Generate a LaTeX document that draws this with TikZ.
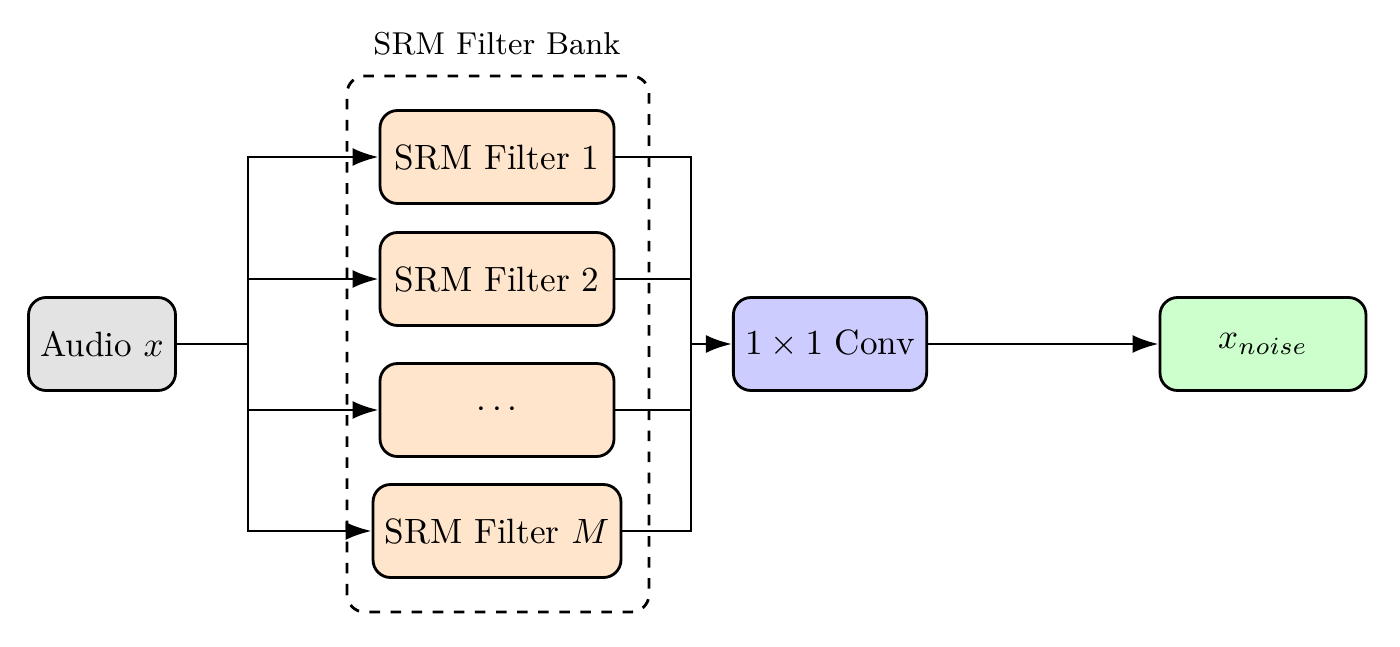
\documentclass[tikz,border=0pt]{standalone}
\usetikzlibrary{arrows.meta, positioning}
\tikzstyle{block} = [rectangle, rounded corners=5pt,
minimum height=0.93cm,
text centered,
draw=black, thick]
\tikzstyle{filter} = [block, minimum width=2.34cm, fill=orange!20]
\tikzstyle{arrow} = [thick,-{Latex[length=2.6mm,width=1.8mm]}]
\tikzstyle{line} = [thick]

\begin{document}
\begin{tikzpicture}
\useasboundingbox (0,0) rectangle (14,6.46);

\node (audio) [block, minimum width=1.39cm, fill=black!11] at (1.02,3.02) {Audio $x$};
\node (f1) [filter] at (4.97,4.89) {SRM Filter 1};
\node (f2) [filter] at (4.97,3.67) {SRM Filter 2};
\node (f3) [filter] at (4.97,2.36) {$\cdots$};
\node (fm) [filter] at (4.97,1.15) {SRM Filter $M$};
\node (conv) [block, minimum width=1.88cm, fill=blue!20] at (8.30,3.02) {$1\times 1$ Conv};
\node (noise) [block, minimum width=2.06cm, fill=green!20] at (12.63,3.02) {$x_{noise}$};

% filter bank frame
\coordinate (bankSW) at (3.47,0.34);
\coordinate (bankNE) at (6.49,5.70);
\draw [thick, dashed, rounded corners=5pt] (bankSW) rectangle (bankNE);
\node (bank) [font=\small] at (4.97,6.02) {SRM Filter Bank};

\coordinate (split) at (2.48,3.02);
\coordinate (merge) at (6.91,3.02);
\draw [line] (audio) -- (split);
\foreach \f in {f1,f2,f3,fm} {
  \draw [arrow] (split) |- (\f);
  \draw [line] (\f) -| (merge);
}
\draw [arrow] (merge) -- (conv);
\draw [arrow] (conv) -- (noise);

\end{tikzpicture}
\end{document}
